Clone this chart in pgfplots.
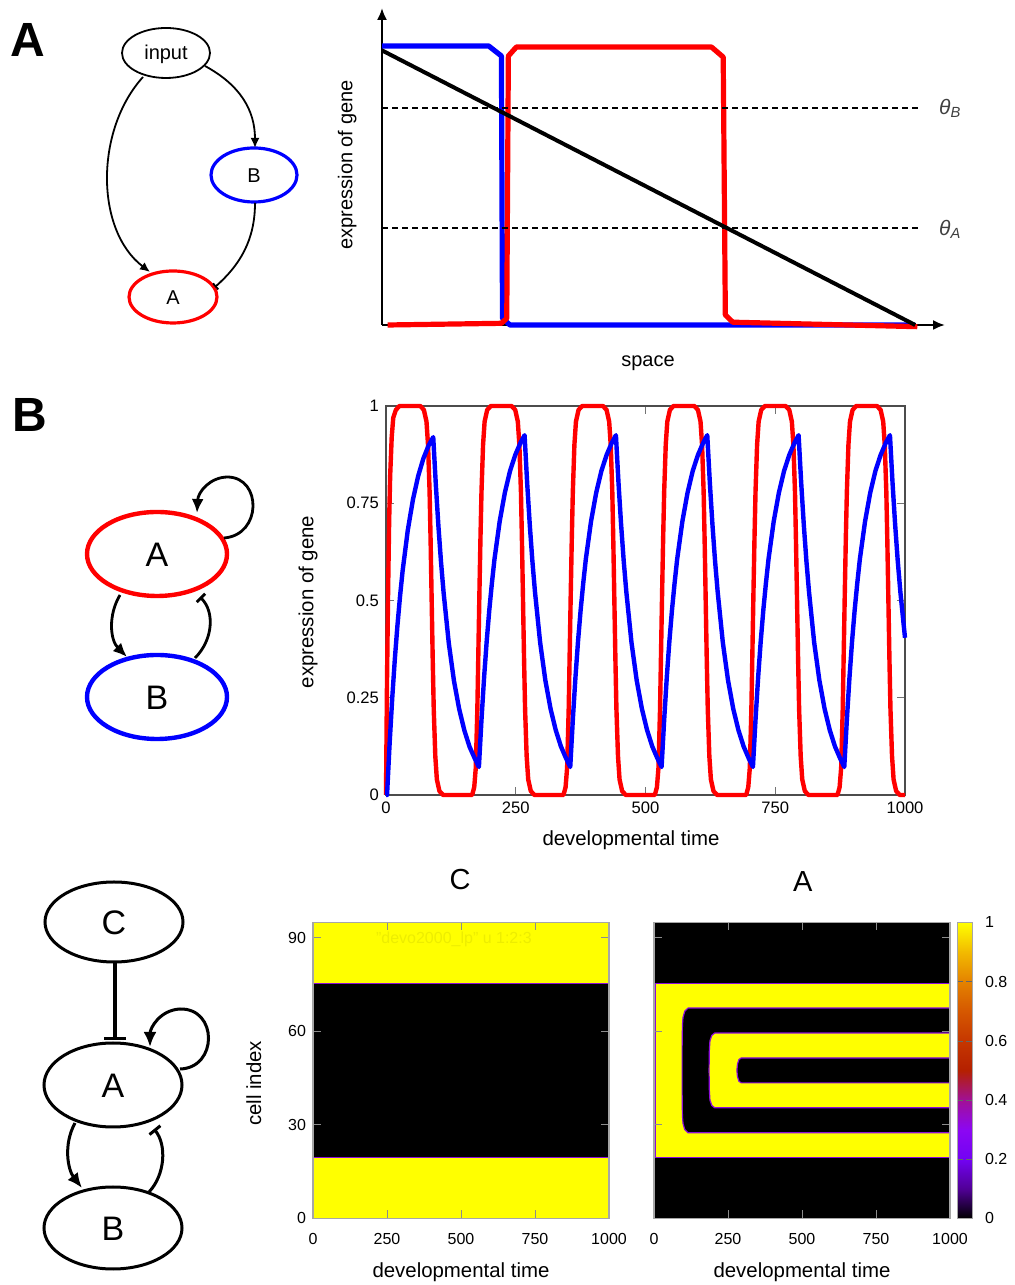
\documentclass[border=0pt]{standalone}
\usepackage{fontspec}
\setmainfont{Liberation Sans}
\usepackage{pgfplots}
\pgfplotsset{compat=1.18}
\usetikzlibrary{arrows.meta}
\definecolor{gred}{rgb}{1,0,0}
\definecolor{gblue}{rgb}{0,0,1}
\definecolor{gyel}{rgb}{1,1,0}
\definecolor{fringe}{rgb}{0.55,0.05,0.85}
\newcommand{\fs}[1]{\fontsize{#1}{#1}\selectfont}
\pgfplotsset{
  /pgf/number format/assume math mode=true,
  /pgf/number format/1000 sep={},
  colormap={gp}{rgb=(0,0,0) rgb=(0.316,0.001,0.588) rgb=(0.447,0.008,0.951) rgb=(0.548,0.027,0.951) rgb=(0.632,0.064,0.588) rgb=(0.707,0.125,0) rgb=(0.775,0.216,0) rgb=(0.837,0.343,0) rgb=(0.894,0.512,0) rgb=(0.949,0.729,0) rgb=(1,1,0)},
  gpaxis/.style={
    scale only axis,
    scaled ticks=false,
    tick align=inside,
    xtick pos=both, ytick pos=both,
    major tick length=4pt,
    tick style={black!55, line width=0.5pt},
    axis line style={black!70, line width=0.6pt},
    ticklabel style={font=\fs{8.3pt}},
    label style={font=\fs{10.2pt}},
  },
}
\begin{document}
\begin{tikzpicture}
\useasboundingbox (0,0) rectangle (507.5pt,642.5pt);

% ---------------- network diagrams and panel letters (pixel coordinates)
\begin{scope}[x=0.5pt,y=-0.5pt,shift={(0pt,642.5pt)}]
  % panel A network
  \node[font=\bfseries\fs{24pt}] at (28,40) {A};
  \draw[line width=0.9pt] (166,53) ellipse [x radius=44, y radius=25];
  \node[font=\fs{10pt}] at (166,54) {input};
  \draw[gblue, line width=1.6pt] (254,175) ellipse [x radius=43, y radius=27];
  \node[font=\fs{10pt}] at (254,176) {B};
  \draw[gred, line width=1.6pt] (173,297) ellipse [x radius=44, y radius=26];
  \node[font=\fs{10pt}] at (173,298) {A};
  \draw[line width=0.9pt, -{Latex[length=5pt,width=4.5pt]}] (143,77) .. controls (95,130) and (95,230) .. (150,272);
  \draw[line width=0.9pt, -{Latex[length=5pt,width=4.5pt]}] (205,66) .. controls (240,85) and (255,110) .. (255,148);
  \draw[line width=0.9pt, -{Bar[width=4pt]}] (255,203) .. controls (255,240) and (240,265) .. (215,287);

  % panel B network
  \node[font=\bfseries\fs{24pt}] at (30,415) {B};
  \draw[gred, line width=2.2pt] (157,554) ellipse [x radius=70, y radius=42];
  \node[font=\fs{17pt}] at (157,555) {A};
  \draw[gblue, line width=2.2pt] (157,697) ellipse [x radius=70, y radius=42];
  \node[font=\fs{17pt}] at (157,698) {B};
  \draw[line width=1.4pt, -{Latex[length=7pt,width=6pt]}] (224,538) .. controls (262,535) and (262,478) .. (228,477) .. controls (210,477) and (198,492) .. (197,513);
  \draw[line width=1.4pt, -{Latex[length=7pt,width=6pt]}] (120,595) .. controls (108,615) and (110,640) .. (127,657);
  \draw[line width=1.4pt, -{Bar[width=6pt]}] (195,658) .. controls (213,640) and (215,612) .. (200,597);

  % panel C network
  \draw[line width=1.5pt] (114,922) ellipse [x radius=69, y radius=40];
  \node[font=\fs{17pt}] at (114,923) {C};
  \draw[line width=1.5pt] (113,1085) ellipse [x radius=69, y radius=42];
  \node[font=\fs{17pt}] at (113,1086) {A};
  \draw[line width=1.5pt] (113,1228) ellipse [x radius=69, y radius=41];
  \node[font=\fs{17pt}] at (113,1229) {B};
  \draw[line width=1.7pt, -{Bar[width=11pt]}] (115,963) -- (115,1040);
  \draw[line width=1.5pt, -{Latex[length=7.5pt,width=6.5pt]}] (180,1069) .. controls (218,1068) and (218,1008) .. (180,1009) .. controls (160,1010) and (150,1028) .. (150,1047);
  \draw[line width=1.5pt, -{Latex[length=7.5pt,width=6.5pt]}] (75,1123) .. controls (63,1145) and (68,1170) .. (82,1188);
  \draw[line width=1.5pt, -{Bar[width=7pt]}] (149,1192) .. controls (165,1175) and (167,1145) .. (154,1129);
\end{scope}

% ---------------- panel A chart
\begin{axis}[
  at={(191pt,480pt)}, anchor=south west, scale only axis,
  width=281.5pt, height=158.5pt,
  xmin=0, xmax=1.056, ymin=0, ymax=1.136,
  axis lines=left,
  axis line style={line width=1pt, -{Latex[length=6pt,width=5pt]}},
  xtick=\empty, ytick=\empty,
  clip=false,
  xlabel={space}, ylabel={expression of gene},
  label style={font=\fs{10pt}},
  xlabel style={at={(axis description cs:0.4725,-0.12)}, anchor=center},
  ylabel style={at={(axis description cs:-0.062,0.505)}, anchor=center},
]
\addplot[gblue, line width=2.6pt, line join=round] coordinates {(0,1) (0.2,1) (0.224,0.964) (0.226,0.024) (0.24,0) (1,0)};
\addplot[gred, line width=2.6pt, line join=round] coordinates {(0.0105,0) (0.224,0.006) (0.234,0.024) (0.237,0.964) (0.252,0.996) (0.618,0.996) (0.64,0.96) (0.644,0.036) (0.658,0.01) (1.004,-0.006)};
\addplot[black, line width=2pt] coordinates {(0,0.984) (1,0)};
\addplot[black, line width=1pt, dash pattern=on 3pt off 2pt] coordinates {(0,0.778) (1.012,0.778)};
\addplot[black, line width=1pt, dash pattern=on 3pt off 2pt] coordinates {(0,0.346) (1.012,0.346)};
\node[font=\fs{10.5pt}, text=black!75] at (axis cs:1.066,0.775) {\textit{θ}\textsubscript{\itshape B}};
\node[font=\fs{10.5pt}, text=black!75] at (axis cs:1.066,0.343) {\textit{θ}\textsubscript{\itshape A}};
\end{axis}

% ---------------- panel B chart
\begin{axis}[gpaxis,
  at={(193pt,245pt)}, anchor=south west,
  width=259.5pt, height=194.5pt,
  xmin=0, xmax=1000, ymin=0, ymax=1,
  xtick={0,250,500,750,1000}, ytick={0,0.25,0.5,0.75,1},
  clip=false,
  xlabel={developmental time}, ylabel={expression of gene},
  xlabel style={at={(axis description cs:0.472,-0.1157)}, anchor=center},
  ylabel style={at={(axis description cs:-0.150,0.496)}, anchor=center},
]
\addplot[gred, line width=2.2pt, line join=round] coordinates {
(0,0) (1,0.15) (2,0.3) (4,0.52) (6,0.7) (8,0.82) (11,0.92) (14,0.97) (19,0.99) (26,1)
(66,1) (73,0.99) (78,0.96) (81,0.9) (84,0.78) (86,0.65) (88,0.5) (90,0.35) (92,0.22) (95,0.1) (98,0.04) (103,0.01) (110,0)
(166,0) (170,0.02) (173,0.07) (176,0.22) (178,0.37) (180,0.52) (182,0.66) (184,0.78) (187,0.9) (190,0.96) (195,0.99) (202,1)
(242,1) (249,0.99) (254,0.96) (257,0.9) (260,0.78) (262,0.65) (264,0.5) (266,0.35) (268,0.22) (271,0.1) (274,0.04) (279,0.01) (286,0)
(342,0) (346,0.02) (349,0.07) (352,0.22) (354,0.37) (356,0.52) (358,0.66) (360,0.78) (363,0.9) (366,0.96) (371,0.99) (378,1)
(418,1) (425,0.99) (430,0.96) (433,0.9) (436,0.78) (438,0.65) (440,0.5) (442,0.35) (444,0.22) (447,0.1) (450,0.04) (455,0.01) (462,0)
(518,0) (522,0.02) (525,0.07) (528,0.22) (530,0.37) (532,0.52) (534,0.66) (536,0.78) (539,0.9) (542,0.96) (547,0.99) (554,1)
(594,1) (601,0.99) (606,0.96) (609,0.9) (612,0.78) (614,0.65) (616,0.5) (618,0.35) (620,0.22) (623,0.1) (626,0.04) (631,0.01) (638,0)
(694,0) (698,0.02) (701,0.07) (704,0.22) (706,0.37) (708,0.52) (710,0.66) (712,0.78) (715,0.9) (718,0.96) (723,0.99) (730,1)
(770,1) (777,0.99) (782,0.96) (785,0.9) (788,0.78) (790,0.65) (792,0.5) (794,0.35) (796,0.22) (799,0.1) (802,0.04) (807,0.01) (814,0)
(870,0) (874,0.02) (877,0.07) (880,0.22) (882,0.37) (884,0.52) (886,0.66) (888,0.78) (891,0.9) (894,0.96) (899,0.99) (906,1)
(946,1) (953,0.99) (958,0.96) (961,0.9) (964,0.78) (966,0.65) (968,0.5) (970,0.35) (972,0.22) (975,0.1) (978,0.04) (983,0.01) (990,0) (1000,0)
};
\addplot[gblue, line width=2.2pt, line join=round] coordinates {
(0,0) (2,0) (7,0.133) (12,0.249) (17,0.349) (22,0.435) (27,0.51) (32,0.576) (42,0.681) (52,0.76) (62,0.82) (72,0.865) (82,0.898) (91,0.92)
(96,0.798) (101,0.691) (106,0.599) (111,0.52) (121,0.39) (131,0.293) (141,0.221) (151,0.166) (161,0.124) (171,0.094) (179,0.072)
(184,0.194) (189,0.302) (194,0.395) (199,0.475) (204,0.544) (209,0.606) (219,0.703) (229,0.777) (239,0.833) (249,0.874) (259,0.905) (267,0.925)
(272,0.802) (277,0.695) (282,0.602) (287,0.523) (297,0.392) (307,0.295) (317,0.222) (327,0.167) (337,0.125) (347,0.094) (355,0.072)
(360,0.194) (365,0.302) (370,0.395) (375,0.475) (380,0.544) (385,0.606) (395,0.703) (405,0.777) (415,0.833) (425,0.874) (435,0.905) (443,0.925)
(448,0.802) (453,0.695) (458,0.602) (463,0.523) (473,0.392) (483,0.295) (493,0.222) (503,0.167) (513,0.125) (523,0.094) (531,0.072)
(536,0.194) (541,0.302) (546,0.395) (551,0.475) (556,0.544) (561,0.606) (571,0.703) (581,0.777) (591,0.833) (601,0.874) (611,0.905) (619,0.925)
(624,0.802) (629,0.695) (634,0.602) (639,0.523) (649,0.392) (659,0.295) (669,0.222) (679,0.167) (689,0.125) (699,0.094) (707,0.072)
(712,0.194) (717,0.302) (722,0.395) (727,0.475) (732,0.544) (737,0.606) (747,0.703) (757,0.777) (767,0.833) (777,0.874) (787,0.905) (795,0.925)
(800,0.802) (805,0.695) (810,0.602) (815,0.523) (825,0.392) (835,0.295) (845,0.222) (855,0.167) (865,0.125) (875,0.094) (883,0.072)
(888,0.194) (893,0.302) (898,0.395) (903,0.475) (908,0.544) (913,0.606) (923,0.703) (933,0.777) (943,0.833) (953,0.874) (963,0.905) (971,0.925)
(976,0.802) (981,0.695) (986,0.602) (991,0.523) (1000,0.404)
};
\end{axis}

% ---------------- heatmap C
\begin{axis}[gpaxis,
  at={(156.5pt,33.3pt)}, anchor=south west,
  width=148pt, height=148pt,
  xmin=0, xmax=1000, ymin=0, ymax=95,
  xtick={0,250,500,750,1000}, ytick={0,30,60,90},
  axis on top,
  axis line style={black!35, line width=0.6pt},
  tick style={black!45},
  ticklabel style={font=\fs{8pt}},
  xticklabel style={yshift=-4pt},
  xlabel={developmental time}, ylabel={cell index},
  xlabel style={at={(axis description cs:0.5,-0.182)}, anchor=center},
  ylabel style={at={(axis description cs:-0.200,0.456)}, anchor=center},
  title={C},
  title style={at={(axis description cs:0.497,1.105)}, anchor=center, font=\fs{14.5pt}},
]
\addplot[fill=black, draw=none] coordinates {(0,0) (1000,0) (1000,95) (0,95)};
\addplot[fill=gyel, draw=none] coordinates {(0,0) (1000,0) (1000,19.5) (0,19.5)};
\addplot[fill=gyel, draw=none] coordinates {(0,75.5) (1000,75.5) (1000,95) (0,95)};
\addplot[fringe, line width=0.6pt] coordinates {(0,19.5) (1000,19.5)};
\addplot[fringe, line width=0.6pt] coordinates {(0,75.5) (1000,75.5)};
\node[font=\fs{8pt}, text=gyel!93!black] at (axis cs:476,89.7) {"devo2000\_lp" u 1:2:3};
\end{axis}

% ---------------- heatmap A with colorbar
\begin{axis}[gpaxis,
  at={(327pt,33.3pt)}, anchor=south west,
  width=148pt, height=148pt,
  xmin=0, xmax=1000, ymin=0, ymax=95,
  xtick={0,250,500,750,1000}, ytick={0,30,60,90},
  yticklabels={,,,},
  axis on top,
  axis line style={black!35, line width=0.6pt},
  tick style={black!45},
  ticklabel style={font=\fs{8pt}},
  xticklabel style={yshift=-4pt},
  xlabel={developmental time},
  xlabel style={at={(axis description cs:0.5,-0.182)}, anchor=center},
  title={A},
  title style={at={(axis description cs:0.503,1.098)}, anchor=center, font=\fs{14.5pt}},
  colorbar,
  colormap name=gp,
  point meta min=0, point meta max=1,
  colorbar shift/.style={xshift=3.5pt},
  colorbar style={
    at={(parent axis.north east)}, anchor=north west,
    width=7.5pt,
    ytick={0,0.2,0.4,0.6,0.8,1},
    yticklabel style={font=\fs{8pt}, xshift=3pt},
    tick align=inside, major tick length=3pt,
    tick style={black!60},
    axis line style={black!35},
  },
]
\addplot[fill=black, draw=none] coordinates {(0,0) (1000,0) (1000,95) (0,95)};
\addplot[fill=gyel, draw=fringe, line width=0.5pt] coordinates {(1000,19.5) (4,19.5) (4,75.5) (1000,75.5)};
\addplot[fill=black, draw=fringe, line width=0.6pt] coordinates {(1000,27.5) (115,27.5) (104,28.5) (98,30.5) (96,33) (95,40) (95,55) (96,62) (98,64.5) (104,66.5) (115,67.5) (1000,67.5)};
\addplot[fill=gyel, draw=fringe, line width=0.6pt] coordinates {(1000,35.5) (205,35.5) (195,36.3) (189,38) (187,41) (186,47.5) (187,54) (189,57) (195,58.7) (205,59.5) (1000,59.5)};
\addplot[fill=black, draw=fringe, line width=0.6pt] coordinates {(1000,43.5) (295,43.5) (287,44) (282,45.5) (280,47.5) (282,49.5) (287,51) (295,51.5) (1000,51.5)};
\end{axis}
\end{tikzpicture}
\end{document}
